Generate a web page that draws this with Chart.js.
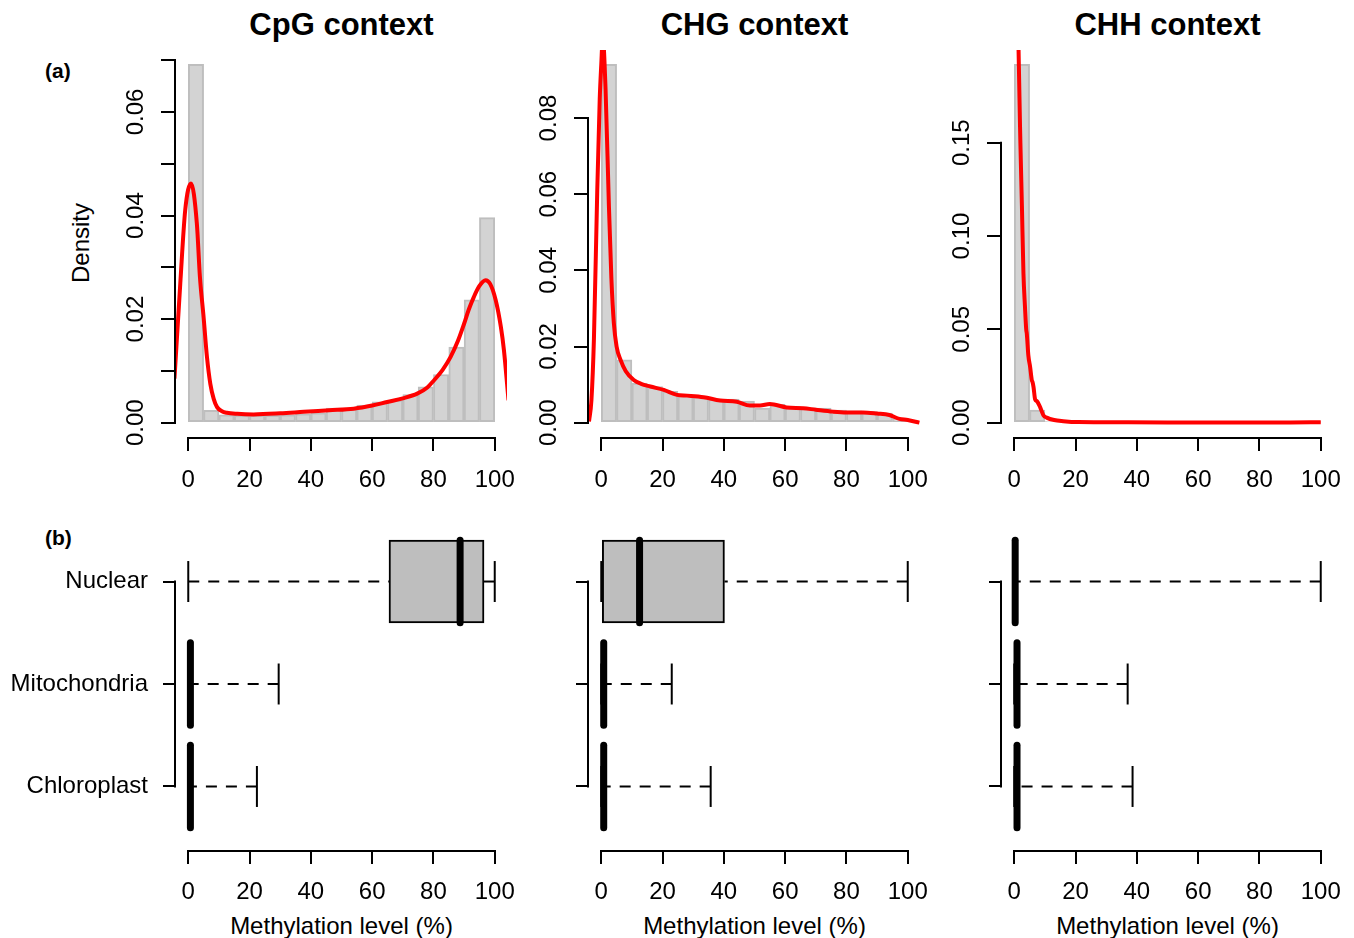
<!DOCTYPE html>
<html>
<head>
<meta charset="utf-8">
<script src="https://cdn.jsdelivr.net/npm/chart.js@4.4.1/dist/chart.umd.min.js"></script>
<style>
  body { margin: 0; background: #fff; width: 1354px; height: 938px; position: relative; overflow: hidden;
         font-family: "Liberation Sans", Arial, Helvetica, sans-serif; }
  canvas { position: absolute; }
  .txt { position: absolute; white-space: nowrap; line-height: 1; color: #000; }
  .title { font-weight: bold; font-size: 31px; width: 331px; text-align: center; top: 9px; }
  .tag { font-weight: bold; font-size: 21px; }
  .xlab { font-size: 24px; width: 331px; text-align: center; top: 914px; }
</style>
</head>
<body>

<div class="txt title" style="left:176px">CpG context</div>
<div class="txt title" style="left:589px">CHG context</div>
<div class="txt title" style="left:1002px">CHH context</div>
<div class="txt tag" style="left:45px; top:60px">(a)</div>
<div class="txt tag" style="left:45px; top:527px">(b)</div>
<div class="txt" style="left:81px; top:243px; font-size:24px; transform:translate(-50%,-50%) rotate(-90deg)">Density</div>
<div class="txt xlab" style="left:176px">Methylation level (%)</div>
<div class="txt xlab" style="left:589px">Methylation level (%)</div>
<div class="txt xlab" style="left:1002px">Methylation level (%)</div>

<canvas id="histCpG"></canvas>
<canvas id="histCHG"></canvas>
<canvas id="histCHH"></canvas>
<canvas id="boxCpG"></canvas>
<canvas id="boxCHG"></canvas>
<canvas id="boxCHH"></canvas>

<script>
// --- histogram bins (5% wide) and densities -------------------------------
const binMids = [2.5, 7.5, 12.5, 17.5, 22.5, 27.5, 32.5, 37.5, 42.5, 47.5,
                 52.5, 57.5, 62.5, 67.5, 72.5, 77.5, 82.5, 87.5, 92.5, 97.5];
const cpgHist = [0.0692, 0.0024, 0.0015, 0.0014, 0.0014, 0.0014, 0.0015, 0.0017, 0.0019, 0.0028,
                 0.0028, 0.0034, 0.0040, 0.0043, 0.0054, 0.0069, 0.0093, 0.0146, 0.0237, 0.0396];
const chgHist = [0.0941, 0.0165, 0.0104, 0.0095, 0.0082, 0.0073, 0.0068, 0.0062, 0.0062, 0.0057,
                 0.0038, 0.0048, 0.0042, 0.0039, 0.0038, 0.0033, 0.0031, 0.0029, 0.0025, 0.0011];
const chhHist = [0.1920, 0.0067, 0.0006, 0.0002, 0.0001, 0.0001, 0.0001, 0.0001, 0.0001, 0.0001,
                 0.0001, 0.0001, 0.0001, 0.0001, 0.0001, 0.0001, 0.0001, 0.0001, 0.0001, 0.0001];

// --- kernel density curves ------------------------------------------------
const cpgDensX = [-4.5, -2.6, -1.0, 0.9, 2.8, 3.8, 5.0, 6.1, 7.2, 8.3, 9.4, 11, 12.6, 16, 21.3, 30,
                  37.7, 46, 54, 60, 64.9, 70, 74.7, 78, 80.2, 83, 85.6, 88, 90, 91.5, 93.2, 95,
                  97, 98.5, 100.3, 102, 103, 104.5];
const cpgDensY = [0.0085, 0.0269, 0.0410, 0.0462, 0.0385, 0.0282, 0.0204, 0.0127, 0.0075, 0.0046,
                  0.0030, 0.0022, 0.0019, 0.0017, 0.0016, 0.0018, 0.0021, 0.0024, 0.0027, 0.0033,
                  0.0040, 0.0047, 0.0056, 0.0068, 0.0082, 0.0102, 0.0127, 0.0158, 0.0191, 0.0218,
                  0.0243, 0.0264, 0.0275, 0.0268, 0.0237, 0.0185, 0.0140, 0.0043];
const chgDensX = [-4, -3.2, -2.4, -1.3, -0.5, 0, 0.5, 1.4, 2.5, 3.3, 4.1, 5, 6.3, 8, 10.6, 13, 16,
                  20.4, 24.7, 28, 33.4, 38.8, 44.2, 48.5, 51.8, 55, 60.5, 65.9, 70, 75.6, 80,
                  85.4, 90, 94, 97.3, 100, 103.8];
const chgDensY = [0.0003, 0.0060, 0.0218, 0.0612, 0.0850, 0.0940, 0.1010, 0.0876, 0.0568, 0.0380,
                  0.0262, 0.0200, 0.0165, 0.0135, 0.0112, 0.0102, 0.0095, 0.0086, 0.0073, 0.0071,
                  0.0067, 0.0058, 0.0055, 0.0045, 0.0045, 0.0049, 0.0040, 0.0038, 0.0034, 0.0029,
                  0.0027, 0.0027, 0.0024, 0.0020, 0.0010, 0.0007, 0.0000];
const chhDensX = [0, 0.8, 1.4, 2, 2.5, 3, 3.5, 3.9, 4.1, 4.6, 5.2, 5.7, 6.0, 6.3, 6.8, 7.4, 8.5,
                  9.5, 10.6, 13, 16, 20.9, 30, 50, 70, 90, 100];
const chhDensY = [0.4000, 0.2800, 0.2000, 0.1500, 0.1158, 0.0799, 0.0620, 0.0500, 0.0476, 0.0360,
                  0.0296, 0.0230, 0.0215, 0.0189, 0.0125, 0.0115, 0.0081, 0.0040, 0.0027, 0.0014,
                  0.0008, 0.0003, 0.0002, 0.0001, 0.0001, 0.0001, 0.0002];

// --- axis ticks -----------------------------------------------------------
const xTicks = [0, 20, 40, 60, 80, 100];
const cpgYTicks = [0, 0.01, 0.02, 0.03, 0.04, 0.05, 0.06, 0.07];
const cpgYLabels = ['0.00', '', '0.02', '', '0.04', '', '0.06', ''];
const chgYTicks = [0, 0.02, 0.04, 0.06, 0.08];
const chgYLabels = ['0.00', '0.02', '0.04', '0.06', '0.08'];
const chhYTicks = [0, 0.05, 0.10, 0.15];
const chhYLabels = ['0.00', '0.05', '0.10', '0.15'];

// --- boxplot stats, bottom to top -----------------------------------------
const groups = ['Chloroplast', 'Mitochondria', 'Nuclear'];
const groupPos = [1, 2, 3];
const cpgLow = [0, 0, 0],   cpgQ1 = [0, 0, 65.5],  cpgMed = [0.7, 0.7, 88.7],  cpgQ3 = [1.2, 1.2, 96.5], cpgHigh = [22.4, 29.5, 100];
const chgLow = [0, 0, 0],   chgQ1 = [0, 0, 0],     chgMed = [0.8, 0.8, 12.5],  chgQ3 = [1.3, 1.3, 40.2], chgHigh = [35.7, 23, 100];
const chhLow = [0, 0, 0],   chhQ1 = [0, 0, 0],     chhMed = [0.9, 0.9, 0.3],   chhQ3 = [1.4, 1.4, 1.0],  chhHigh = [38.6, 37, 100];

const FONT = '"Liberation Sans", Arial, Helvetica, sans-serif';
const PLOT_LEFT = [176, 589, 1002];
const PLOT_W = 331;
const PAD_R = 24;   // room for the "100" label past the plot edge

// R-style axes: the axis line only spans the first to last tick
const axisLines = {
  id: 'axisLines',
  afterDraw(chart, args, opts) {
    const { ctx, chartArea, scales } = chart;
    ctx.save();
    ctx.strokeStyle = '#000';
    ctx.lineWidth = 2;
    ctx.beginPath();
    ctx.moveTo(scales.x.getPixelForValue(opts.xTicks[0]) - 1, chartArea.bottom + 1);
    ctx.lineTo(scales.x.getPixelForValue(opts.xTicks[opts.xTicks.length - 1]) + 1, chartArea.bottom + 1);
    ctx.moveTo(chartArea.left - 1, scales.y.getPixelForValue(opts.yTicks[0]) + 1);
    ctx.lineTo(chartArea.left - 1, scales.y.getPixelForValue(opts.yTicks[opts.yTicks.length - 1]) - 1);
    ctx.stroke();

    // vertical tick labels on the density axes
    if (opts.yLabels) {
      ctx.fillStyle = '#000';
      ctx.font = '24px ' + FONT;
      ctx.textAlign = 'center';
      ctx.textBaseline = 'middle';
      opts.yTicks.forEach((v, i) => {
        const lab = opts.yLabels[i];
        if (!lab) return;
        ctx.save();
        ctx.translate(chartArea.left - opts.yLabelGap, scales.y.getPixelForValue(v));
        ctx.rotate(-Math.PI / 2);
        ctx.fillText(lab, 0, 0);
        ctx.restore();
      });
    }
    ctx.restore();
  }
};

function setCanvas(id, left, top, w, h) {
  const c = document.getElementById(id);
  c.width = w;
  c.height = h;
  c.style.left = left + 'px';
  c.style.top = top + 'px';
  return c;
}

function xScale(height, pad) {
  return {
    type: 'linear', min: -4, max: 104, offset: false,
    afterBuildTicks: s => { s.ticks = xTicks.map(v => ({ value: v })); },
    afterFit: s => { s.height = height; s.paddingLeft = 0; s.paddingRight = 0; },
    grid: { drawOnChartArea: false, offset: false, color: '#000', lineWidth: 2, tickLength: 14 },
    border: { display: false },
    ticks: { color: '#000', font: { family: FONT, size: 24 }, padding: pad, maxRotation: 0, autoSkip: false,
             callback: v => String(v) }
  };
}

const baseOptions = {
  responsive: false,
  animation: false,
  events: [],
  layout: { padding: { left: 0, top: 0, bottom: 0, right: PAD_R } }
};

// --- (a) histograms with density overlay ----------------------------------
function drawHist(id, col, hist, densX, densY, yTicks, yLabels) {
  const yMax = Math.max(...hist);
  const yW = 60, xH = 68, top = 50, h = 387;
  const canvas = setCanvas(id, PLOT_LEFT[col] - yW, top, yW + PLOT_W + PAD_R, h + xH);
  new Chart(canvas, {
    type: 'bar',
    data: {
      datasets: [
        {
          type: 'bar',
          data: binMids.map((m, i) => ({ x: m, y: hist[i] })),
          backgroundColor: '#d3d3d3',
          borderColor: '#bebebe',
          borderWidth: 2,
          borderSkipped: false,
          barPercentage: 1,
          categoryPercentage: 1,
          order: 2
        },
        {
          type: 'line',
          data: densX.map((x, i) => ({ x: x, y: densY[i] })),
          borderColor: '#ff0000',
          borderWidth: 4,
          pointRadius: 0,
          cubicInterpolationMode: 'monotone',
          fill: false,
          clip: 0,
          order: 1
        }
      ]
    },
    options: {
      ...baseOptions,
      plugins: {
        legend: { display: false },
        tooltip: { enabled: false },
        axisLines: { xTicks, yTicks, yLabels, yLabelGap: 40 }
      },
      scales: {
        x: xScale(xH, 15),
        y: {
          type: 'linear', min: -0.04 * yMax, max: 1.04 * yMax, offset: false,
          afterBuildTicks: s => { s.ticks = yTicks.map(v => ({ value: v })); },
          afterFit: s => { s.width = yW; s.paddingTop = 0; s.paddingBottom = 0; },
          grid: { drawOnChartArea: false, offset: false, color: '#000', lineWidth: 2, tickLength: 15 },
          border: { display: false },
          ticks: { display: false }
        }
      }
    },
    plugins: [axisLines]
  });
}

drawHist('histCpG', 0, cpgHist, cpgDensX, cpgDensY, cpgYTicks, cpgYLabels);
drawHist('histCHG', 1, chgHist, chgDensX, chgDensY, chgYTicks, chgYLabels);
drawHist('histCHH', 2, chhHist, chhDensX, chhDensY, chhYTicks, chhYLabels);

// --- (b) horizontal boxplots ----------------------------------------------
function seg(x1, y1, x2, y2, style) {
  return Object.assign({
    type: 'line',
    data: [{ x: x1, y: y1 }, { x: x2, y: y2 }],
    borderColor: '#000',
    borderWidth: 2,
    pointRadius: 0,
    fill: false
  }, style);
}

function drawBox(id, col, low, q1, med, q3, high, showNames) {
  const yW = showNames ? PLOT_LEFT[0] : 30, xH = 64, top = 518, h = 332;
  const canvas = setCanvas(id, PLOT_LEFT[col] - yW, top, yW + PLOT_W + PAD_R, h + xH);
  const datasets = [{
    type: 'bar',
    indexAxis: 'y',
    data: groupPos.map((p, i) => ({ x: [q1[i], q3[i]], y: p })),
    backgroundColor: '#bebebe',
    borderColor: '#000',
    borderWidth: 2,
    borderSkipped: false,
    barThickness: 83,
    order: 4
  }];
  groupPos.forEach((p, i) => {
    const dash = { borderDash: [11, 9], order: 3 };
    datasets.push(seg(low[i], p, q1[i], p, dash));
    datasets.push(seg(high[i], p, q3[i], p, dash));
    datasets.push(seg(low[i], p - 0.2, low[i], p + 0.2, { order: 2 }));
    datasets.push(seg(high[i], p - 0.2, high[i], p + 0.2, { order: 2 }));
    datasets.push(seg(med[i], p - 0.403, med[i], p + 0.403,
      { borderWidth: 7, borderCapStyle: 'round', order: 1 }));
  });
  new Chart(canvas, {
    type: 'bar',
    data: { datasets },
    options: {
      ...baseOptions,
      plugins: {
        legend: { display: false },
        tooltip: { enabled: false },
        axisLines: { xTicks, yTicks: groupPos }
      },
      scales: {
        x: xScale(xH, 14),
        y: {
          type: 'linear', min: 0.38, max: 3.62, offset: false,
          afterBuildTicks: s => { s.ticks = groupPos.map(v => ({ value: v })); },
          afterFit: s => { s.width = yW; s.paddingTop = 0; s.paddingBottom = 0; },
          grid: { drawOnChartArea: false, offset: false, color: '#000', lineWidth: 2, tickLength: 13 },
          border: { display: false },
          ticks: { display: showNames, color: '#000', font: { family: FONT, size: 24 }, padding: 15,
                   callback: (v, i) => groups[i] }
        }
      }
    },
    plugins: [axisLines]
  });
}

drawBox('boxCpG', 0, cpgLow, cpgQ1, cpgMed, cpgQ3, cpgHigh, true);
drawBox('boxCHG', 1, chgLow, chgQ1, chgMed, chgQ3, chgHigh, false);
drawBox('boxCHH', 2, chhLow, chhQ1, chhMed, chhQ3, chhHigh, false);
</script>
</body>
</html>
